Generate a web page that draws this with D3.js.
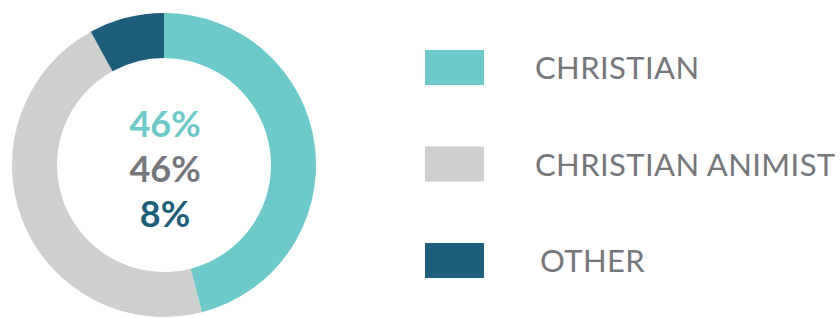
<!DOCTYPE html>
<html>
<head>
<meta charset="utf-8">
<script src="https://cdn.jsdelivr.net/npm/d3@7"></script>
<style>
  body { margin: 0; background: #fff; }
  svg { display: block; }
</style>
</head>
<body>
<svg id="chart" width="840" height="318"></svg>
<script>
const categories = ['CHRISTIAN', 'CHRISTIAN ANIMIST', 'OTHER'];
const values = [46, 46, 8];
const centerLabels = ['46%', '46%', '8%'];
const colors = ['#6ccacb', '#cfcfce', '#1d5e7c'];

const WIDTH = 840;
const HEIGHT = 318;
const CX = 164;
const CY = 165;
const R_OUTER = 152;
const R_INNER = 107;
const COLOR_TEXT = '#75777a';

const svg = d3.select('#chart');

const color = d3.scaleOrdinal().domain(categories).range(colors);

const pie = d3.pie()
    .value((d, i) => values[i])
    .sort(null);

const arc = d3.arc()
    .innerRadius(R_INNER)
    .outerRadius(R_OUTER);

// donut
const g = svg.append('g').attr('transform', `translate(${CX},${CY})`);
g.selectAll('path')
    .data(pie(categories))
    .enter()
    .append('path')
    .attr('d', arc)
    .attr('fill', d => color(d.data));

// center percentages
const labelColors = [colors[0], COLOR_TEXT, colors[2]];
g.selectAll('text.pct')
    .data(centerLabels)
    .enter()
    .append('text')
    .attr('class', 'pct')
    .text(d => d)
    .attr('x', 1)
    .attr('y', (d, i) => -28 + i * 45)
    .attr('text-anchor', 'middle')
    .attr('fill', (d, i) => labelColors[i])
    .attr('font-family', 'Lato, sans-serif')
    .attr('font-weight', 'bold')
    .attr('font-size', 36);

// legend
const legendY = d3.scalePoint()
    .domain(categories)
    .range([50, 243]);

const legend = svg.append('g');
const item = legend.selectAll('g')
    .data(categories)
    .enter()
    .append('g')
    .attr('transform', d => `translate(0,${legendY(d)})`);

item.append('rect')
    .attr('x', 425)
    .attr('y', 0)
    .attr('width', 59)
    .attr('height', 35)
    .attr('fill', d => color(d));

item.append('text')
    .text(d => d)
    .attr('x', (d, i) => i === 2 ? 540 : 535)
    .attr('y', 29)
    .attr('fill', COLOR_TEXT)
    .attr('font-family', 'Lato, sans-serif')
    .attr('font-size', 31)
    .attr('letter-spacing', 0.4);
</script>
</body>
</html>
